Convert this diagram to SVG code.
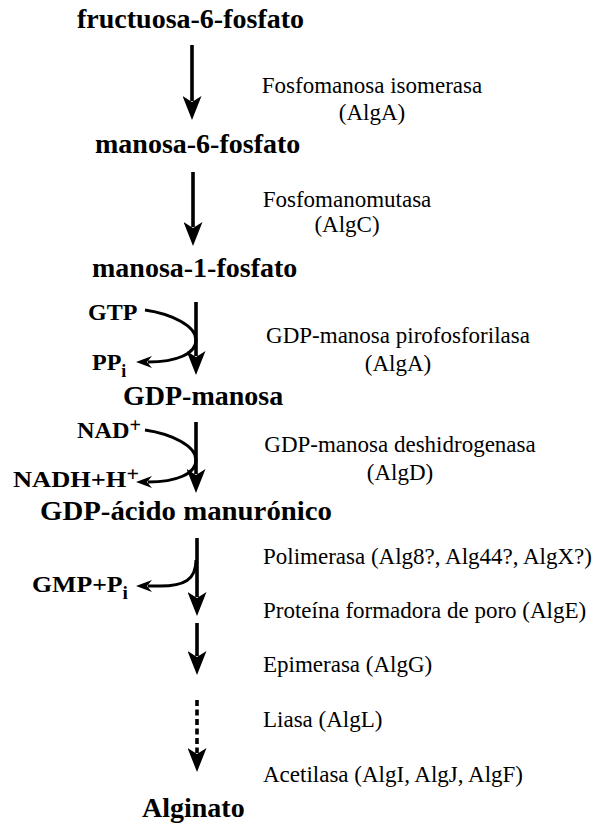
<svg xmlns="http://www.w3.org/2000/svg" width="595" height="824" viewBox="0 0 595 824">
<style>
.m{font-family:"Liberation Serif","Times New Roman",serif;font-weight:bold;font-size:28px;fill:#000}
.c{font-family:"Liberation Serif","Times New Roman",serif;font-weight:bold;font-size:24px;fill:#000}
.e{font-family:"Liberation Serif","Times New Roman",serif;font-size:23px;fill:#000}
.sub{font-size:18px}
.sup{font-size:20px}
.main{stroke:#000;stroke-width:3.6;fill:none;marker-end:url(#big)}
.dash{stroke:#000;stroke-width:3.6;fill:none;stroke-dasharray:6 3.5;marker-end:url(#big)}
.side{stroke:#000;stroke-width:3;fill:none;marker-end:url(#small)}
</style>
<defs>
<marker id="big" viewBox="0 0 24 19" refX="5" refY="9.5" markerWidth="24" markerHeight="19" markerUnits="userSpaceOnUse" orient="auto">
<path d="M0,0 L24,9.5 L0,19 L6,9.5 Z" fill="#000"/>
</marker>
<marker id="small" viewBox="0 0 16 12" refX="4" refY="6" markerWidth="16" markerHeight="12" markerUnits="userSpaceOnUse" orient="auto">
<path d="M0,0 L16,6 L0,12 L5,6 Z" fill="#000"/>
</marker>
</defs>
<rect width="595" height="824" fill="#fff"/>

<g id="connectors">
<line class="main" x1="192" y1="45" x2="192" y2="101"/>
<line class="main" x1="193" y1="172" x2="193" y2="227"/>
<line class="main" x1="196" y1="302" x2="196" y2="356"/>
<line class="main" x1="196" y1="422" x2="196" y2="474"/>
<line class="main" x1="197" y1="538" x2="197" y2="597"/>
<line class="main" x1="197" y1="623" x2="197" y2="656"/>
<line class="dash" x1="197" y1="700" x2="197" y2="753"/>
<path class="side" d="M145,310 C172,314 196,326 196,340 C196,354 176,362 148,362"/>
<path class="side" d="M145,430 C172,434 196,446 196,460 C196,474 176,482 148,482"/>
<path class="side" d="M196,560 C196,580 184,586 160,586 L148,586"/>
</g>

<g id="fructuosa-6-fosfato"><text class="m" x="77" y="28">fructuosa-6-fosfato</text></g>
<g id="manosa-6-fosfato"><text class="m" x="95" y="153">manosa-6-fosfato</text></g>
<g id="manosa-1-fosfato"><text class="m" x="92" y="277">manosa-1-fosfato</text></g>
<g id="GDP-manosa"><text class="m" x="123" y="405">GDP-manosa</text></g>
<g id="GDP-acido-manuronico"><text class="m" x="40" y="520" textLength="292" lengthAdjust="spacingAndGlyphs">GDP-ácido manurónico</text></g>
<g id="Alginato"><text class="m" x="142" y="817">Alginato</text></g>

<g id="GTP"><text class="c" x="88" y="320">GTP</text></g>
<g id="PPi"><text class="c" x="92" y="370">PP<tspan class="sub" dy="7">i</tspan></text></g>
<g id="NAD"><text class="c" x="77" y="438" textLength="64" lengthAdjust="spacingAndGlyphs">NAD<tspan class="sup" dy="-6">+</tspan></text></g>
<g id="NADH"><text class="c" x="13" y="487" textLength="126" lengthAdjust="spacingAndGlyphs">NADH+H<tspan class="sup" dy="-6">+</tspan></text></g>
<g id="GMP"><text class="c" x="32" y="592" textLength="96" lengthAdjust="spacingAndGlyphs">GMP+P<tspan class="sub" dy="7">i</tspan></text></g>

<g id="enz-AlgA-1"><text class="e" x="372" y="93" text-anchor="middle">Fosfomanosa isomerasa</text><text class="e" x="372" y="120" text-anchor="middle">(AlgA)</text></g>
<g id="enz-AlgC"><text class="e" x="347" y="207" text-anchor="middle">Fosfomanomutasa</text><text class="e" x="347" y="232" text-anchor="middle">(AlgC)</text></g>
<g id="enz-AlgA-2"><text class="e" x="398" y="343" text-anchor="middle">GDP-manosa pirofosforilasa</text><text class="e" x="398" y="371" text-anchor="middle">(AlgA)</text></g>
<g id="enz-AlgD"><text class="e" x="400" y="452" text-anchor="middle">GDP-manosa deshidrogenasa</text><text class="e" x="400" y="480" text-anchor="middle">(AlgD)</text></g>
<g id="enz-polimerasa"><text class="e" x="263" y="564">Polimerasa (Alg8?, Alg44?, AlgX?)</text></g>
<g id="enz-AlgE"><text class="e" x="263" y="618">Proteína formadora de poro (AlgE)</text></g>
<g id="enz-AlgG"><text class="e" x="263" y="672">Epimerasa (AlgG)</text></g>
<g id="enz-AlgL"><text class="e" x="263" y="727">Liasa (AlgL)</text></g>
<g id="enz-acetilasa"><text class="e" x="263" y="782">Acetilasa (AlgI, AlgJ, AlgF)</text></g>
</svg>
